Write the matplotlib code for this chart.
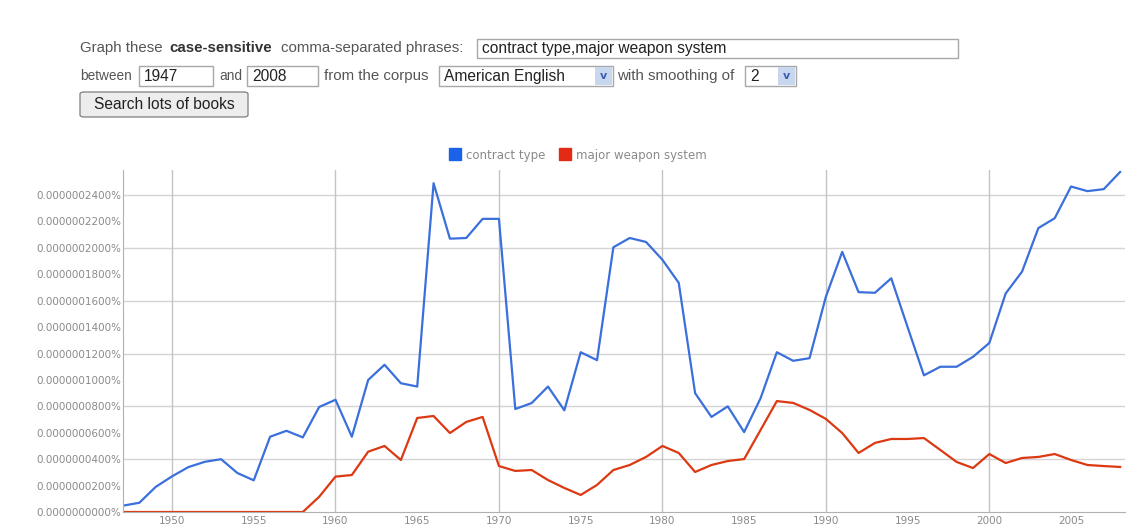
import matplotlib.pyplot as plt
from matplotlib.patches import Rectangle, FancyBboxPatch
from matplotlib.lines import Line2D

# values in units of 1e-10 percent, one per year
years = list(range(1947, 2009))
contract_type = [48, 70, 190, 270, 340, 380, 400, 295, 240, 570,
                 615, 565, 795, 850, 570, 1000, 1115, 975, 950, 2490,
                 2070, 2075, 2220, 2220, 780, 825, 950, 770, 1210, 1150,
                 2005, 2075, 2045, 1910, 1735, 900, 720, 800, 605, 860,
                 1210, 1145, 1165, 1630, 1970, 1665, 1660, 1770, 1400, 1035,
                 1100, 1100, 1175, 1280, 1655, 1820, 2150, 2225, 2465, 2430,
                 2445, 2575]
major_weapon = [0, 0, 0, 0, 0, 0, 0, 0, 0, 0,
                0, 0, 115, 268, 280, 457, 500, 394, 712, 727,
                598, 682, 720, 348, 311, 318, 242, 182, 129, 205,
                318, 356, 417, 500, 447, 303, 356, 386, 401, 620,
                840, 826, 773, 705, 598, 447, 523, 553, 553, 560,
                470, 379, 333, 439, 371, 409, 417, 439, 394, 356,
                348, 341]
series_names = ["contract type", "major weapon system"]
y_ticks = list(range(0, 2401, 200))
x_ticks = list(range(1950, 2006, 5))

BLUE = "#3a6fdc"
RED = "#dc3912"
W, H = 1130, 527

fig = plt.figure(figsize=(W / 100, H / 100), dpi=100)
fig.patch.set_facecolor("white")


def fx(x):
    return x / W


def fy(y):
    return 1 - y / H


# ---- form above the chart ----
label_kw = dict(fontsize=10.8, color="#555555", va="center", family="Liberation Sans")
small_kw = dict(label_kw, fontsize=9.8)
fig.text(fx(80), fy(48), "Graph these", **label_kw)
fig.text(fx(169), fy(48), "case-sensitive", fontweight="bold", fontsize=10.8,
         color="#333333", va="center", family="Liberation Sans")
fig.text(fx(281), fy(48), "comma-separated phrases:", **label_kw)


def box(x0, y0, x1, y1, txt=None, arrow=False):
    fig.add_artist(Rectangle((fx(x0), fy(y1)), fx(x1 - x0), (y1 - y0) / H,
                             transform=fig.transFigure, facecolor="white",
                             edgecolor="#a8a8a8", linewidth=1))
    if txt:
        fig.text(fx(x0 + 5), fy((y0 + y1) / 2), txt, fontsize=11.2, color="#222222",
                 va="center", family="Liberation Sans")
    if arrow:
        fig.add_artist(Rectangle((fx(x1 - 18), fy(y1 - 1)), fx(17), (y1 - y0 - 2) / H,
                                 transform=fig.transFigure, facecolor="#c8d6f0",
                                 edgecolor="none"))
        fig.text(fx(x1 - 9.5), fy((y0 + y1) / 2), "v", fontsize=8, color="#3a5fb0",
                 fontweight="bold", ha="center", va="center")


box(477, 39, 958, 58, ",".join(series_names))
fig.text(fx(80), fy(76), "between", **small_kw)
box(139, 66, 213, 86, "1947")
fig.text(fx(219), fy(76), "and", **small_kw)
box(247, 66, 318, 86, "2008")
fig.text(fx(324), fy(76), "from the corpus", **label_kw)
box(439, 66, 613, 86, "American English", arrow=True)
fig.text(fx(617), fy(76), "with smoothing of", **label_kw)
box(745, 66, 796, 86, "2", arrow=True)

fig.add_artist(FancyBboxPatch((fx(80), fy(117)), fx(168), 25 / H,
                              boxstyle="round,pad=0,rounding_size=0.004",
                              transform=fig.transFigure, facecolor="#ededed",
                              edgecolor="#8a8a8a", linewidth=1))
fig.text(fx(164), fy(104.5), "Search lots of books", fontsize=11.2, color="#222222",
         ha="center", va="center", family="Liberation Sans")

# ---- chart ----
ax = fig.add_axes([fx(123), fy(512), fx(1125 - 123), (512 - 170) / H])
ax.set_facecolor("white")
ax.plot(years, contract_type, color=BLUE, linewidth=1.6, label=series_names[0])
ax.plot(years, major_weapon, color=RED, linewidth=1.6, label=series_names[1])

ax.set_xlim(1947, 2008.3)
ax.set_ylim(0, 2590)

for t in y_ticks:
    if t > 0 and t % 400 == 0:
        ax.axhline(t, color="#d4d4d4", linewidth=1, zorder=0)
for t in x_ticks:
    if t % 10 == 0:
        ax.axvline(t, color="#c4c4c4", linewidth=1, zorder=0)

ax.set_yticks(y_ticks)
ax.set_yticklabels([f"{t * 1e-10:.10f}%" for t in y_ticks])
ax.set_xticks(x_ticks)
ax.set_xticklabels([str(t) for t in x_ticks])
ax.tick_params(length=0, labelsize=7.5, labelcolor="#8a8a8a")
ax.tick_params(axis="y", pad=1)
ax.tick_params(axis="x", pad=3)

for s in ["top", "right"]:
    ax.spines[s].set_visible(False)
ax.spines["left"].set_color("#b0b0b0")
ax.spines["bottom"].set_color("#b0b0b0")

handles = [Line2D([], [], marker="s", linestyle="none", markersize=8,
                  markerfacecolor=c, markeredgecolor=c) for c in ("#1a62e8", "#e22a14")]
fig.legend(handles, series_names, loc="center", bbox_to_anchor=(fx(578), fy(155)),
           ncol=2, frameon=False, fontsize=8.5, labelcolor="#8a8a8a",
           handletextpad=0.4, columnspacing=1.2, handlelength=1.0)

fig.savefig("out.png", dpi=100, facecolor="white")
